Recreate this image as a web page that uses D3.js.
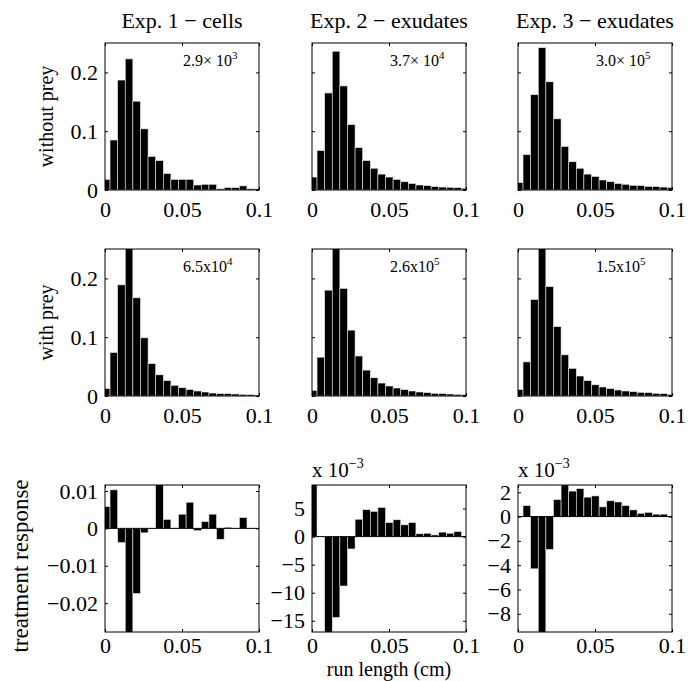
<!DOCTYPE html>
<html>
<head>
<meta charset="utf-8">
<script src="https://cdn.jsdelivr.net/npm/d3@7"></script>
<style>
  body { margin: 0; background: #fff; }
  svg { display: block; }
  svg text { font-family: "Liberation Serif", "DejaVu Serif", serif !important; fill: #000; }
</style>
</head>
<body>
<svg id="chart" width="688" height="681"></svg>
<script>
// run length bins (cm), centres of the 21 histogram bins
const binWidth = 0.00494;
const binCenters = d3.range(21).map(i => 0.0008 + i * binWidth);

const columnTitles = ['Exp. 1 \u2212 cells', 'Exp. 2 \u2212 exudates', 'Exp. 3 \u2212 exudates'];
const rowLabels = ['without prey', 'with prey', 'treatment response'];

// fraction of runs per bin, without prey
const noPreyCells = [0.018, 0.085, 0.187, 0.223, 0.151, 0.104, 0.057, 0.050, 0.028, 0.018, 0.018,
  0.018, 0.0085, 0.0097, 0.0097, 0.002, 0.004, 0.004, 0.007, 0.002, 0.002];
const noPreyExp2 = [0.022, 0.067, 0.165, 0.236, 0.177, 0.111, 0.072, 0.050, 0.037, 0.027, 0.022,
  0.018, 0.014, 0.011, 0.0085, 0.0074, 0.0057, 0.005, 0.0045, 0.004, 0.003];
const noPreyExp3 = [0.0125, 0.060, 0.162, 0.242, 0.184, 0.121, 0.074, 0.048, 0.037, 0.027, 0.023,
  0.017, 0.014, 0.011, 0.0097, 0.008, 0.0074, 0.006, 0.0057, 0.005, 0.004];

// fraction of runs per bin, with prey
const preyCells = [0.0125, 0.074, 0.189, 0.26, 0.167, 0.099, 0.055, 0.036, 0.026, 0.018, 0.014,
  0.011, 0.0085, 0.0068, 0.005, 0.004, 0.004, 0.0034, 0.0028, 0.0023, 0.0017];
const preyExp2 = [0.0097, 0.066, 0.180, 0.26, 0.183, 0.112, 0.068, 0.044, 0.031, 0.022, 0.017,
  0.0136, 0.0108, 0.0085, 0.0068, 0.0057, 0.0045, 0.004, 0.0034, 0.0028, 0.0023];
const preyExp3 = [0.011, 0.058, 0.164, 0.26, 0.186, 0.118, 0.070, 0.047, 0.034, 0.026, 0.019,
  0.0153, 0.0125, 0.0102, 0.0085, 0.0074, 0.0062, 0.0057, 0.0045, 0.004, 0.0028];

// treatment response (exp 2 and 3 in units of 1e-3)
const responseCells = [0.0058, 0.0103, -0.0038, -0.030, -0.0174, -0.0012, 0.0, 0.0125, 0.0024, 0.0001, 0.0038,
  0.0070, -0.0006, 0.0018, 0.0038, -0.0029, 0.0003, 0.0, 0.0029, 0.0, 0.0];
const responseExp2 = [9.5, 0, -17.5, -14.4, -8.8, -2.2, 3.1, 4.8, 4.5, 5.2, 2.5,
  3.0, 2.1, 2.5, 0.5, 0.6, 0.3, 0.8, 0.6, 0.9, 0.1];
const responseExp3 = [0, 0.9, -4.3, -11, -2.7, 1.4, 2.6, 2.1, 2.3, 1.6, 1.7,
  0.8, 1.3, 1.2, 0.9, 0.55, 0.27, 0.35, 0.2, 0.2, 0.05];

const xTicks = [0, 0.05, 0.1];
const distTicks = [0, 0.1, 0.2];
const respTicksCells = [0.01, 0, -0.01, -0.02];
const respTicksExp2 = [5, 0, -5, -10, -15];
const respTicksExp3 = [2, 0, -2, -4, -6, -8];

const countBases = ['2.9\u00d7 10', '3.7\u00d7 10', '3.0\u00d7 10', '6.5x10', '2.6x10', '1.5x10'];
const countExps = ['3', '4', '5', '4', '5', '5'];

const panels = [
  { row: 0, col: 0, values: noPreyCells, domain: [0, 0.25], ticks: distTicks, labels: true },
  { row: 0, col: 1, values: noPreyExp2, domain: [0, 0.25], ticks: distTicks, labels: false },
  { row: 0, col: 2, values: noPreyExp3, domain: [0, 0.25], ticks: distTicks, labels: false },
  { row: 1, col: 0, values: preyCells, domain: [0, 0.25], ticks: distTicks, labels: true },
  { row: 1, col: 1, values: preyExp2, domain: [0, 0.25], ticks: distTicks, labels: false },
  { row: 1, col: 2, values: preyExp3, domain: [0, 0.25], ticks: distTicks, labels: false },
  { row: 2, col: 0, values: responseCells, domain: [-0.0277, 0.0116], ticks: respTicksCells, labels: true },
  { row: 2, col: 1, values: responseExp2, domain: [-17, 9.2], ticks: respTicksExp2, labels: true, scaled: true },
  { row: 2, col: 2, values: responseExp3, domain: [-9.5, 2.6], ticks: respTicksExp3, labels: true, scaled: true }
];

const colX = [105, 312, 518];
const rowY = [43, 249, 485];
const pw = 154, ph = 147;

const svg = d3.select('#chart');
const fmtTick = d => d3.format('')(d).replace('-', '\u2212');

columnTitles.forEach((t, i) => {
  svg.append('text')
    .attr('x', colX[i] + pw / 2).attr('y', 28)
    .attr('text-anchor', 'middle')
    .attr('font-size', 22)
    .text(t);
});

// ylabels: MATLAB puts the bottom one further left
const rowLabelX = [46, 46, 20];
const rowLabelY = [rowY[0] + ph / 2, rowY[1] + ph / 2, 566];
const rowLabelSize = [20, 20, 23];
rowLabels.forEach((t, i) => {
  svg.append('text')
    .attr('transform', `translate(${rowLabelX[i]},${rowLabelY[i]}) rotate(-90)`)
    .attr('text-anchor', 'middle')
    .attr('dy', '0.35em')
    .attr('font-size', rowLabelSize[i])
    .text(t);
});

svg.append('text')
  .attr('x', colX[1] + pw / 2).attr('y', 676)
  .attr('text-anchor', 'middle')
  .attr('font-size', 20)
  .text('run length (cm)');

panels.forEach((p, idx) => {
  const g = svg.append('g').attr('transform', `translate(${colX[p.col]},${rowY[p.row]})`);
  const x = d3.scaleLinear().domain([0, 0.1]).range([0, pw]);
  const y = d3.scaleLinear().domain(p.domain).range([ph, 0]);

  const clipId = 'clip' + idx;
  g.append('clipPath').attr('id', clipId)
    .append('rect').attr('width', pw).attr('height', ph);

  const bw = x(binWidth) - x(0);
  g.append('g').attr('clip-path', `url(#${clipId})`)
    .selectAll('rect')
    .data(p.values.map((v, i) => ({ c: binCenters[i], v })))
    .join('rect')
    .attr('x', d => x(d.c) - bw / 2)
    .attr('width', bw)
    .attr('y', d => y(Math.max(0, d.v)))
    .attr('height', d => Math.abs(y(d.v) - y(0)))
    .attr('fill', '#000')
    .attr('stroke', '#e8e8e8')
    .attr('stroke-width', 0.6);

  if (p.row === 2) {
    g.append('line')
      .attr('x1', 0).attr('x2', pw)
      .attr('y1', y(0)).attr('y2', y(0))
      .attr('stroke', '#000').attr('stroke-width', 1);
  }

  const pad = p.row === 2 ? 5 : 11;
  g.append('g').attr('transform', `translate(0,${ph})`)
    .call(d3.axisBottom(x).tickValues(xTicks).tickSize(-3).tickPadding(pad).tickFormat(d3.format('')));
  g.append('g')
    .call(d3.axisTop(x).tickValues(xTicks).tickSize(-3).tickFormat(''));
  g.append('g')
    .call(d3.axisLeft(y).tickValues(p.ticks).tickSize(-3).tickPadding(7)
      .tickFormat(p.labels ? fmtTick : ''));
  g.append('g').attr('transform', `translate(${pw},0)`)
    .call(d3.axisRight(y).tickValues(p.ticks).tickSize(-3).tickFormat(''));

  g.selectAll('.domain').remove();
  g.selectAll('.tick line').attr('stroke', '#000');
  g.selectAll('.tick text').attr('font-size', 22);

  g.append('rect')
    .attr('width', pw).attr('height', ph)
    .attr('fill', 'none').attr('stroke', '#000').attr('stroke-width', 1);

  if (p.row < 2) {
    const k = p.row * 3 + p.col;
    const t = g.append('text')
      .attr('x', pw / 2 + 1).attr('y', 23)
      .attr('font-size', 16);
    t.append('tspan').text(countBases[k]);
    t.append('tspan').attr('dy', -7).attr('font-size', 11).text(countExps[k]);
  }

  if (p.scaled) {
    const t = g.append('text')
      .attr('x', 0).attr('y', -8)
      .attr('font-size', 21);
    t.append('tspan').text('x 10');
    t.append('tspan').attr('dy', -9).attr('font-size', 14).text('\u22123');
  }
});
</script>
</body>
</html>
